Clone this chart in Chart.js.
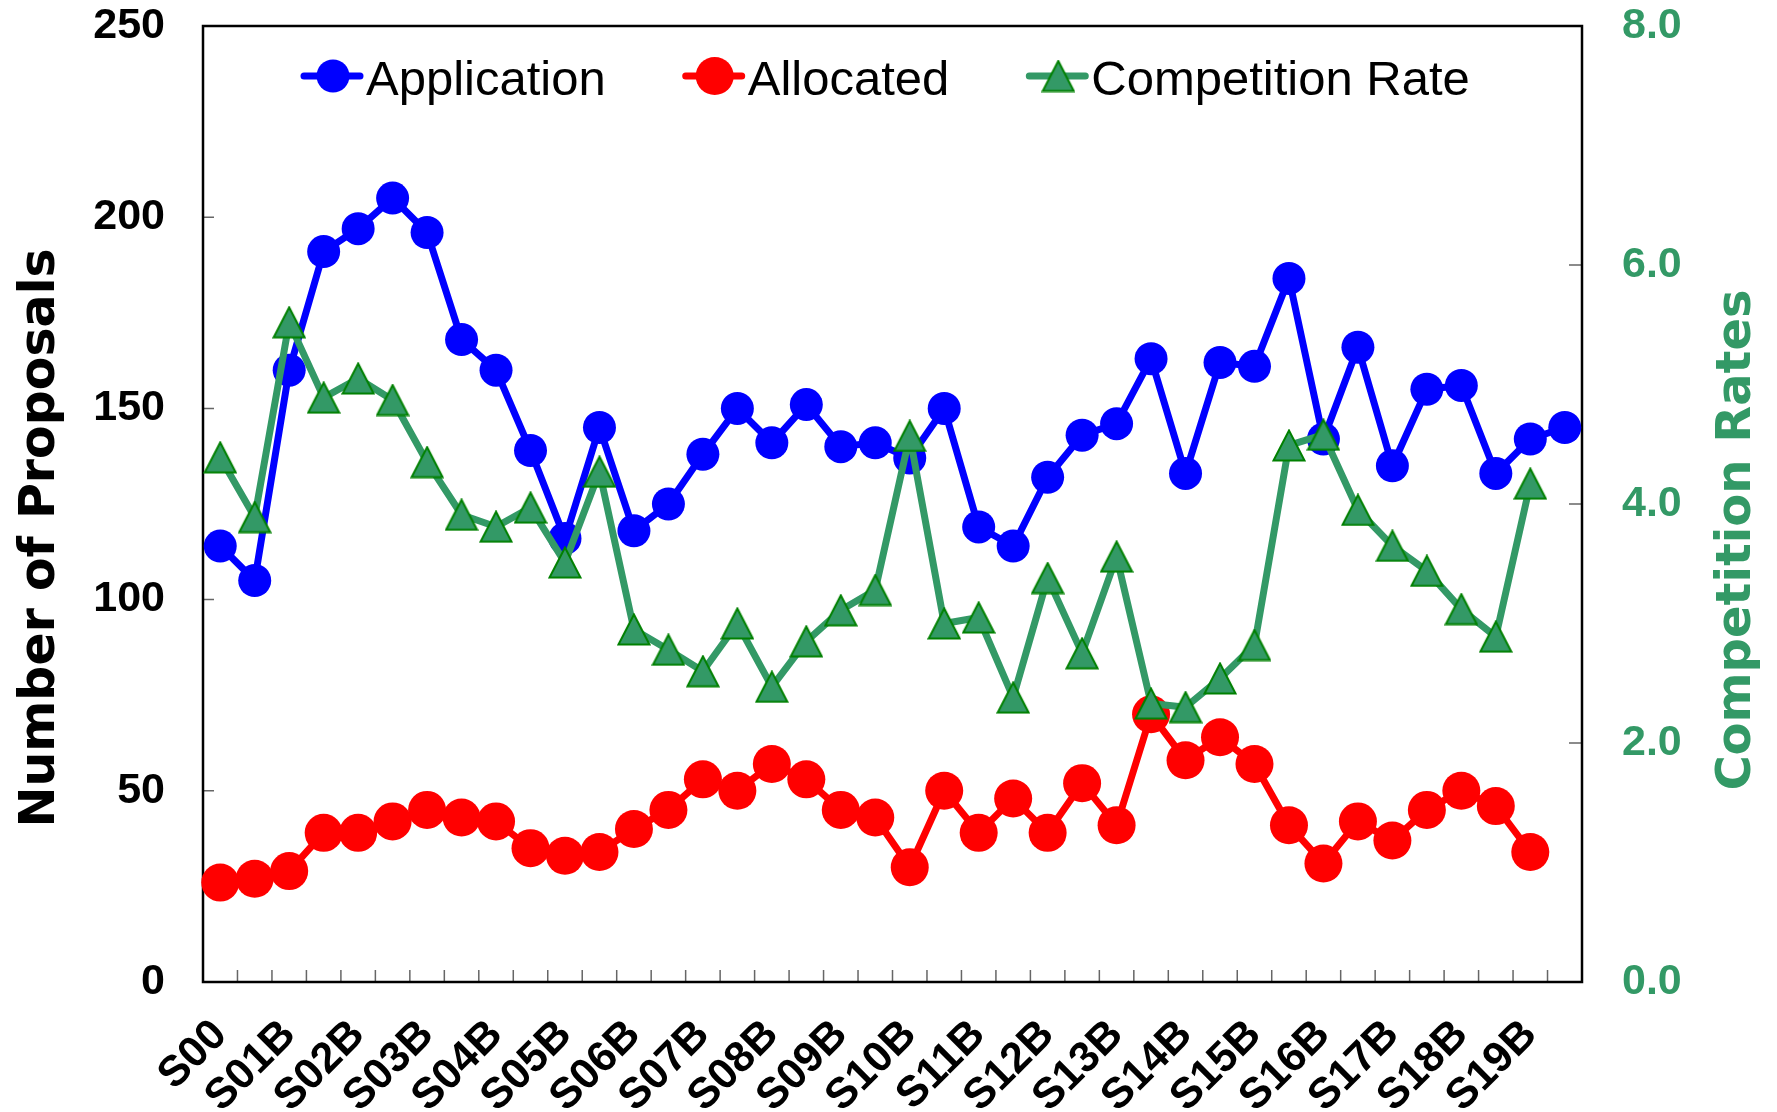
<!DOCTYPE html>
<html>
<head>
<meta charset="utf-8">
<script src="https://cdn.jsdelivr.net/npm/chart.js@4.4.1/dist/chart.umd.min.js"></script>
<style>
html, body { margin: 0; padding: 0; background: #fff; }
canvas { display: block; }
</style>
</head>
<body>
<canvas id="chart" width="1777" height="1112"></canvas>
<script>
// semesters, every other one gets a label
categories = ["S00", "S01", "S01B", "S02", "S02B", "S03", "S03B", "S04", "S04B", "S05", "S05B",
	"S06", "S06B", "S07", "S07B", "S08", "S08B", "S09", "S09B", "S10", "S10B",
	"S11", "S11B", "S12", "S12B", "S13", "S13B", "S14", "S14B", "S15", "S15B",
	"S16", "S16B", "S17", "S17B", "S18", "S18B", "S19", "S19B", "S20"]

application = [114, 105, 160, 191, 197, 205, 196, 168, 160, 139, 116, 145, 118, 125, 138, 150, 141, 151, 140, 141,
	137, 150, 119, 114, 132, 143, 146, 163, 133, 162, 161, 184, 142, 166, 135, 155, 156, 133, 142, 145]

allocated = [26, 27, 29, 39, 39, 42, 45, 43, 42, 35, 33, 34, 40, 45, 53, 50, 57, 53, 45, 43,
	30, 50, 39, 48, 39, 52, 41, 70, 58, 64, 57, 41, 31, 42, 37, 45, 50, 46, 34, null]

competitionRate = [4.39, 3.89, 5.52, 4.89, 5.05, 4.87, 4.35, 3.91, 3.81, 3.97, 3.51, 4.27, 2.95, 2.78, 2.60, 3.00, 2.47, 2.85, 3.11, 3.28,
	4.57, 3.00, 3.05, 2.38, 3.38, 2.75, 3.56, 2.33, 2.30, 2.54, 2.82, 4.49, 4.58, 3.95, 3.65, 3.44, 3.12, 2.89, 4.17, null]

proposalTicks = [0, 50, 100, 150, 200, 250]
rateTicks = [0, 2, 4, 6, 8]

SANS = "'Liberation Sans', Arial, sans-serif"
WIDE = "'DejaVu Sans', Verdana, sans-serif"
GREEN = "#339966"

// excel style triangle marker (centred on its box, not its centroid)
function makeTriangle() {
	var c = document.createElement("canvas")
	c.width = 34
	c.height = 33
	var ctx = c.getContext("2d")
	ctx.beginPath()
	ctx.moveTo(17, 1.5)
	ctx.lineTo(32.5, 31.5)
	ctx.lineTo(1.5, 31.5)
	ctx.closePath()
	ctx.fillStyle = GREEN
	ctx.fill()
	ctx.lineWidth = 2
	ctx.strokeStyle = "#008000"
	ctx.stroke()
	return c
}
triangle = makeTriangle()

function drawMarker(ctx, ds, x, y) {
	if (ds.pointStyle instanceof HTMLCanvasElement) {
		ctx.drawImage(ds.pointStyle, x - ds.pointStyle.width / 2, y - ds.pointStyle.height / 2)
	} else {
		ctx.beginPath()
		ctx.arc(x, y, ds.pointRadius, 0, Math.PI * 2)
		ctx.fillStyle = ds.backgroundColor
		ctx.fill()
	}
}

// stop the y label heights from pushing the plot area down
function fixWidth(w) {
	return function(s) {
		s.width = w
		s.paddingTop = 0
		s.paddingBottom = 0
	}
}

frame = {
	id: "frame",
	beforeDatasetsDraw: function(chart) {
		var a = chart.chartArea
		var ctx = chart.ctx
		var x = chart.scales.x, y = chart.scales.y, y1 = chart.scales.y1
		var step = x.getPixelForValue(1) - x.getPixelForValue(0)
		ctx.save()
		ctx.strokeStyle = "#666"
		ctx.lineWidth = 1.5
		ctx.beginPath()
		for (var i = 0; i <= categories.length; i++) {
			var px = x.getPixelForValue(0) + (i - 0.5) * step
			ctx.moveTo(px, a.bottom)
			ctx.lineTo(px, a.bottom - 12)
		}
		for (v of proposalTicks) {
			var py = y.getPixelForValue(v)
			ctx.moveTo(a.left, py)
			ctx.lineTo(a.left + 11, py)
		}
		for (v of rateTicks) {
			var py = y1.getPixelForValue(v)
			ctx.moveTo(a.right, py)
			ctx.lineTo(a.right - 13, py)
		}
		ctx.stroke()
		ctx.strokeStyle = "#000"
		ctx.lineWidth = 2.5
		ctx.strokeRect(a.left, a.top, a.right - a.left, a.bottom - a.top)
		ctx.restore()
	},
	afterDraw: function(chart) {
		var a = chart.chartArea
		var ctx = chart.ctx
		ctx.save()
		// axis titles, both read bottom to top
		ctx.textAlign = "center"
		ctx.textBaseline = "alphabetic"
		ctx.font = "bold 49px " + WIDE
		ctx.fillStyle = "#000"
		ctx.translate(54, 538)
		ctx.rotate(-Math.PI / 2)
		ctx.fillText("Number of Proposals", 0, 0)
		ctx.setTransform(1, 0, 0, 1, 0, 0)
		ctx.font = "bold 48px " + WIDE
		ctx.fillStyle = GREEN
		ctx.translate(1750, 540)
		ctx.rotate(-Math.PI / 2)
		ctx.fillText("Competition Rates", 0, 0)
		ctx.setTransform(1, 0, 0, 1, 0, 0)

		// legend inside the plot
		ctx.font = "49px " + SANS
		ctx.textAlign = "left"
		var lx = a.left + 101
		var ly = 76
		for (ds of chart.data.datasets) {
			ctx.beginPath()
			ctx.moveTo(lx, ly)
			ctx.lineTo(lx + 56, ly)
			ctx.lineWidth = 7
			ctx.lineCap = "round"
			ctx.strokeStyle = ds.borderColor
			ctx.stroke()
			drawMarker(ctx, ds, lx + 29, ly)
			ctx.fillStyle = "#000"
			ctx.fillText(ds.label, lx + 62, ly + 19)
			lx += 62 + ctx.measureText(ds.label).width + 80
		}
		ctx.restore()
	}
}

new Chart(document.getElementById("chart"), {
	type: "line",
	data: {
		labels: categories,
		datasets: [
			{
				label: "Application",
				data: application,
				yAxisID: "y",
				borderColor: "#0000ff",
				backgroundColor: "#0000ff",
				borderWidth: 7,
				pointRadius: 16.5,
				pointBorderWidth: 0,
				order: 3
			},
			{
				label: "Allocated",
				data: allocated,
				yAxisID: "y",
				borderColor: "#ff0000",
				backgroundColor: "#ff0000",
				borderWidth: 7,
				pointRadius: 19,
				pointBorderWidth: 0,
				order: 2
			},
			{
				label: "Competition Rate",
				data: competitionRate,
				yAxisID: "y1",
				borderColor: GREEN,
				backgroundColor: GREEN,
				borderWidth: 7,
				pointStyle: triangle,
				pointRadius: 17,
				order: 1
			}
		]
	},
	options: {
		responsive: false,
		animation: false,
		devicePixelRatio: 1,
		clip: false,
		layout: { padding: { top: 26, left: 0, right: 0, bottom: 0 } },
		elements: { line: { tension: 0, borderJoinStyle: "round", borderCapStyle: "round" } },
		plugins: { legend: { display: false }, tooltip: { enabled: false } },
		scales: {
			x: {
				offset: true,
				grid: { display: false, drawTicks: false, offset: true },
				border: { display: false },
				ticks: {
					autoSkip: false,
					maxRotation: 45,
					minRotation: 45,
					padding: 28,
					color: "#000",
					font: { family: SANS, weight: "bold", size: 43 },
					callback: function(v, i) { return i % 2 == 0 ? categories[i] : "" }
				},
				afterFit: function(s) { s.height = 130 }
			},
			y: {
				position: "left",
				min: 0,
				max: 250,
				grid: { display: false, drawTicks: false },
				border: { display: false },
				afterBuildTicks: function(s) { s.ticks = proposalTicks.map(function(v) { return { value: v } }) },
				ticks: { padding: 38, color: "#000", font: { family: SANS, weight: "bold", size: 43 } },
				afterFit: fixWidth(203)
			},
			y1: {
				position: "right",
				min: 0,
				max: 8,
				grid: { display: false, drawTicks: false },
				border: { display: false },
				afterBuildTicks: function(s) { s.ticks = rateTicks.map(function(v) { return { value: v } }) },
				ticks: {
					padding: 40,
					color: GREEN,
					font: { family: SANS, weight: "bold", size: 43 },
					callback: function(v) { return v.toFixed(1) }
				},
				afterFit: fixWidth(195)
			}
		}
	},
	plugins: [frame]
})
</script>
</body>
</html>
